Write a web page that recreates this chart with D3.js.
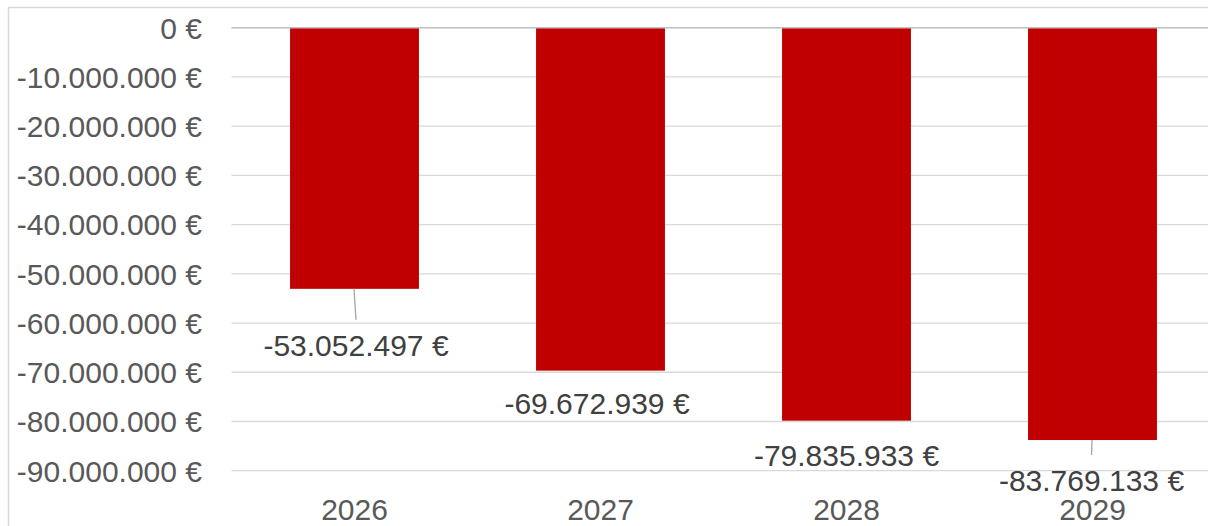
<!DOCTYPE html>
<html>
<head>
<meta charset="utf-8">
<script src="https://cdn.jsdelivr.net/npm/d3@7"></script>
<style>
  body { margin: 0; background: #fff; }
  svg { display: block; font-family: "Liberation Sans", Arial, sans-serif; }
</style>
</head>
<body>
<div id="chart"></div>
<script>
// Data
const years = ['2026', '2027', '2028', '2029'];
const values = [-53052497, -69672939, -79835933, -83769133];
const yTicks = [0, -10e6, -20e6, -30e6, -40e6, -50e6, -60e6, -70e6, -80e6, -90e6];

// Label placement (moved by hand in the original, px below bar end)
const labelDrop = [56, 33, 35, 40];
const labelShift = [1.5, -3.5, 0, -1];
const leaderLine = [true, false, false, true];

const CONFIG = {
    width: 1208,
    height: 526,
    plotLeft: 231.5,
    plotRight: 1215.5,
    yTop: 27.7,
    yBottom: 470.7,
    fontSize: '30px',
    barColor: '#C00000',
    axisText: '#595959',
    labelText: '#404040',
    grid: '#d9d9d9'
};

const de = d3.formatLocale({
    decimal: ',', thousands: '.', grouping: [3], currency: ['', ' €'], minus: '-'
});
const fmt = v => de.format(',.0f')(v) + ' €';

const svg = d3.select('#chart').append('svg')
    .attr('width', CONFIG.width)
    .attr('height', CONFIG.height);

// chart area border
svg.append('rect')
    .attr('x', 8.5).attr('y', 7.5)
    .attr('width', 1300).attr('height', 600)
    .attr('fill', 'none')
    .attr('stroke', CONFIG.grid)
    .attr('stroke-width', 1.5);

const x = d3.scaleBand()
    .domain(years)
    .range([CONFIG.plotLeft, CONFIG.plotRight])
    .paddingInner(0.476)
    .paddingOuter(0.238);

const y = d3.scaleLinear()
    .domain([-90e6, 0])
    .range([CONFIG.yBottom, CONFIG.yTop]);

// gridlines
svg.append('g').selectAll('line')
    .data(yTicks.filter(d => d !== 0))
    .join('line')
    .attr('x1', CONFIG.plotLeft).attr('x2', CONFIG.width)
    .attr('y1', d => y(d)).attr('y2', d => y(d))
    .attr('stroke', CONFIG.grid)
    .attr('stroke-width', 1.3);

// y axis labels
svg.append('g').selectAll('text')
    .data(yTicks)
    .join('text')
    .attr('x', 202)
    .attr('y', d => y(d))
    .attr('dy', '0.36em')
    .attr('text-anchor', 'end')
    .attr('fill', CONFIG.axisText)
    .style('font-size', CONFIG.fontSize)
    .text(d => fmt(d));

// bars
svg.append('g').selectAll('rect')
    .data(values)
    .join('rect')
    .attr('x', (d, i) => x(years[i]))
    .attr('width', x.bandwidth())
    .attr('y', y(0))
    .attr('height', d => y(d) - y(0))
    .attr('fill', CONFIG.barColor);

// zero line
svg.append('line')
    .attr('x1', CONFIG.plotLeft).attr('x2', CONFIG.width)
    .attr('y1', y(0)).attr('y2', y(0))
    .attr('stroke', '#bfbfbf')
    .attr('stroke-width', 1.5);

// leader lines
svg.append('g').selectAll('line')
    .data(values.map((v, i) => ({ v, i })).filter(d => leaderLine[d.i]))
    .join('line')
    .attr('x1', d => x(years[d.i]) + x.bandwidth() / 2 - 0.5)
    .attr('y1', d => y(d.v))
    .attr('x2', d => x(years[d.i]) + x.bandwidth() / 2 + labelShift[d.i])
    .attr('y2', d => y(d.v) + labelDrop[d.i] - 25)
    .attr('stroke', '#a6a6a6')
    .attr('stroke-width', 1.3);

// data labels
svg.append('g').selectAll('text')
    .data(values)
    .join('text')
    .attr('x', (d, i) => x(years[i]) + x.bandwidth() / 2 + labelShift[i])
    .attr('y', (d, i) => y(d) + labelDrop[i])
    .attr('dy', '0.36em')
    .attr('text-anchor', 'middle')
    .attr('fill', CONFIG.labelText)
    .style('font-size', CONFIG.fontSize)
    .text(d => fmt(d));

// x axis labels
svg.append('g').selectAll('text')
    .data(years)
    .join('text')
    .attr('x', d => x(d) + x.bandwidth() / 2)
    .attr('y', 520)
    .attr('text-anchor', 'middle')
    .attr('fill', CONFIG.axisText)
    .style('font-size', CONFIG.fontSize)
    .text(d => d);
</script>
</body>
</html>
